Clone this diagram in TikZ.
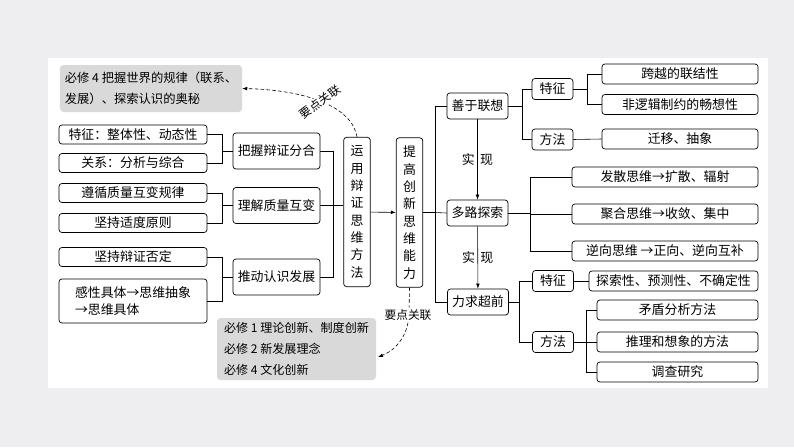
\documentclass[tikz,border=0pt]{standalone}
\usepackage{fontspec}
\setmainfont{Noto Sans CJK SC}
\usepackage{xcolor}
\usepackage{tikz}
\usetikzlibrary{arrows.meta}
\definecolor{notegray}{HTML}{D9D9D9}
\definecolor{slidebg}{HTML}{EEEEF0}
\begin{document}
\begin{tikzpicture}[
x=0.03cm,
y=-0.03cm,
every node/.style={font=\fontsize{11}{14}\selectfont},
box/.style={rectangle,rounded corners=2.5pt,draw,line width=0.6pt,fill=white,align=center,inner sep=1pt},
leaf/.style={box,minimum width=4.44cm,minimum height=0.57cm},
mid/.style={box,minimum width=2.61cm,minimum height=1.08cm},
vbox/.style={box,minimum width=0.8cm,minimum height=4.48cm,font=\fontsize{11}{14.8}\selectfont},
goal/.style={box,minimum width=1.83cm,minimum height=0.78cm},
tag/.style={box,minimum width=1.23cm,minimum height=0.63cm},
item/.style={box,minimum height=0.6cm},
note/.style={rectangle,rounded corners=3pt,fill=notegray,align=left,inner sep=1pt,font=\fontsize{10.5}{17.5}\selectfont},
wire/.style={line width=0.5pt},
arr/.style={-{Latex[length=1.5mm,width=1.1mm]},line width=0.5pt},
link/.style={densely dashed,-{Latex[length=1.5mm,width=1.1mm]},line width=0.5pt},
lbl/.style={inner sep=2pt},
hint/.style={font=\fontsize{10}{12}\selectfont,inner sep=1pt,fill=white}
]
\useasboundingbox (0,0) rectangle (794,447);
\fill[slidebg] (0,0) rectangle (794,447);
\fill[white] (48,58) rectangle (768,388);

\node[note,minimum width=5.46cm,minimum height=1.41cm] (topnote) at (151,88.5) {必修 4 把握世界的规律（联系、\\发展）、探索认识的奥秘};
\node[note,minimum width=4.77cm,minimum height=1.86cm,font=\fontsize{10.3}{18}\selectfont] (lownote) at (296.5,349) {必修 1 理论创新、制度创新\\必修 2 新发展理念\\必修 4 文化创新};

\node[leaf] (tz) at (133,134.5) {特征：整体性、动态性};
\node[leaf] (gx) at (133,163) {关系：分析与综合};
\node[leaf] (zx) at (133,193) {遵循质量互变规律};
\node[leaf] (sd) at (133,223) {坚持适度原则};
\node[leaf] (fd) at (133,257) {坚持辩证否定};
\node[leaf,minimum height=1.32cm,align=left] (jt) at (133,301) {感性具体→思维抽象\\→思维具体};

\node[mid] (bawo) at (276.5,151) {把握辩证分合};
\node[mid] (lijie) at (276.5,205.5) {理解质量互变};
\node[mid] (tuidong) at (276.5,277) {推动认识发展};

\node[vbox] (yunyong) at (357,212) {运\\用\\辩\\证\\思\\维\\方\\法};
\node[vbox] (tigao) at (409.5,212.5) {提\\高\\创\\新\\思\\维\\能\\力};

\node[goal] (shanyu) at (477.5,106) {善于联想};
\node[goal] (duolu) at (477.5,213) {多路探索};
\node[goal] (chaoqian) at (478,302) {力求超前};

\node[tag] (tzA) at (552.5,89) {特征};
\node[tag] (ffA) at (552.5,139.5) {方法};
\node[tag] (tzB) at (553,281) {特征};
\node[tag] (ffB) at (553,342) {方法};

\node[item,minimum width=4.68cm] (kuayue) at (680,74) {跨越的联结性};
\node[item,minimum width=4.68cm] (feiluoji) at (680,104.5) {非逻辑制约的畅想性};
\node[item,minimum width=4.68cm] (qianyi) at (680,139) {迁移、抽象};
\node[item,minimum width=5.58cm] (fasan) at (665,177) {发散思维→扩散、辐射};
\node[item,minimum width=5.58cm] (juhe) at (665,214) {聚合思维→收敛、集中};
\node[item,minimum width=5.58cm] (nixiang) at (665,251) {逆向思维 →正向、逆向互补};
\node[item,minimum width=5.07cm] (tansuo) at (673.5,281) {探索性、预测性、不确定性};
\node[item,minimum width=4.83cm] (maodun) at (677.5,310) {矛盾分析方法};
\node[item,minimum width=4.83cm] (tuili) at (677.5,342) {推理和想象的方法};
\node[item,minimum width=4.83cm] (diaocha) at (677.5,372) {调查研究};

\coordinate (jA) at (222,151);
\coordinate (jB) at (222,205.5);
\coordinate (jC) at (222,277);
\coordinate (jD) at (333,205.5);
\coordinate (jE) at (435,212.5);
\coordinate (jF) at (522,106);
\coordinate (jG) at (587,89);
\coordinate (jH) at (530,213);
\coordinate (jI) at (519,302);
\coordinate (jJ) at (586,342);
\coordinate (lowbend) at (409,312);
\coordinate (lowtip) at (378,357);

\draw[wire] (tz.east) -| (jA);
\draw[wire] (gx.east) -| (jA);
\draw[wire] (jA) -- (bawo.west);
\draw[wire] (zx.east) -| (jB);
\draw[wire] (sd.east) -| (jB);
\draw[wire] (jB) -- (lijie.west);
\draw[wire] (fd.east) -| (jC);
\draw[wire] (jt.east) -| (jC);
\draw[wire] (jC) -- (tuidong.west);
\draw[wire] (bawo.east) -| (jD);
\draw[wire] (tuidong.east) -| (jD);
\draw[wire] (lijie.east) -- (lijie.east -| yunyong.west);
\draw[arr] (yunyong) -- (tigao);
\draw[wire] (tigao.east) -- (jE);
\draw[wire] (shanyu.west) -| (jE);
\draw[wire] (chaoqian.west) -| (jE);
\draw[wire] (jE) -- (duolu.west);
\draw[arr] (shanyu) -- node[lbl,left]{实} node[lbl,right]{现} (duolu);
\draw[arr] (duolu) -- node[lbl,left]{实} node[lbl,right]{现} (chaoqian);

\draw[wire] (shanyu.east) -- (jF);
\draw[wire] (tzA.west) -| (jF);
\draw[wire] (ffA.west) -| (jF);
\draw[wire] (tzA.east) -- (jG);
\draw[wire] (kuayue.west) -| (jG);
\draw[wire] (feiluoji.west) -| (jG);
\draw[wire] (ffA.east) -- (qianyi.west);
\draw[wire] (duolu.east) -- (jH);
\draw[wire] (fasan.west) -| (jH);
\draw[wire] (juhe.west) -| (jH);
\draw[wire] (nixiang.west) -| (jH);
\draw[wire] (chaoqian.east) -- (jI);
\draw[wire] (tzB.west) -| (jI);
\draw[wire] (ffB.west) -| (jI);
\draw[wire] (tzB.east) -- (tansuo.west);
\draw[wire] (ffB.east) -- (jJ);
\draw[wire] (maodun.west) -| (jJ);
\draw[wire] (tuili.west) -| (jJ);
\draw[wire] (diaocha.west) -| (jJ);

\draw[link] (yunyong.north) .. controls (352,106) and (305,90) .. (topnote.east);
\node[hint,rotate=37] (hintA) at (320,102) {要点关联};
\draw[link] (tigao.south) -- (lowbend) .. controls (409,335) and (396,350) .. (lowtip);
\node[hint] (hintB) at (408,315) {要点关联};
\end{tikzpicture}
\end{document}
